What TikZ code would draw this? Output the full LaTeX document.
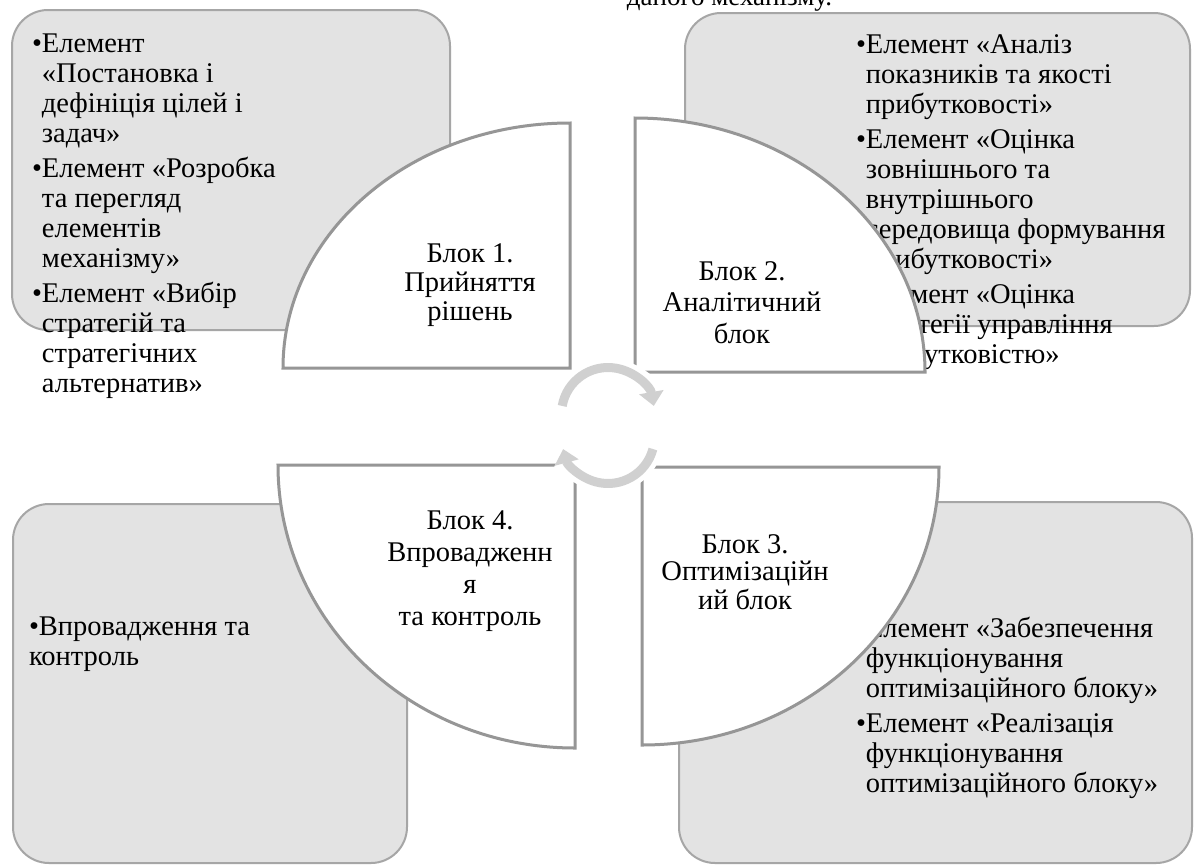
\documentclass[tikz,border=0pt]{standalone}
\usepackage{fontspec}
\setmainfont{Liberation Serif}
\usetikzlibrary{arrows.meta}
\definecolor{boxfill}{RGB}{227,227,227}
\definecolor{boxline}{RGB}{166,166,166}
\definecolor{blockline}{RGB}{150,150,150}
\definecolor{arrowgray}{RGB}{208,208,208}
\tikzset{
  graybox/.style={draw=boxline, fill=boxfill, line width=2pt, rounded corners=36pt, inner sep=0pt, outer sep=0pt},
  quarter/.style={draw=blockline, fill=white, line width=3pt, line join=miter},
  boxtxt/.style={inner sep=0pt, outer sep=0pt, font=\fontsize{28.5}{30}\selectfont},
  blocktxt/.style={inner sep=0pt, outer sep=0pt, font=\fontsize{28.5}{#1}\selectfont},
  halo/.style={draw=white, line width=19pt, -{Triangle[width=34pt,length=20pt]}},
  cyc/.style={draw=arrowgray, line width=9pt, -{Triangle[width=24pt,length=14pt]}}
}
\begin{document}
\begin{tikzpicture}[x=1pt,y=-1pt]
\useasboundingbox[fill=white] (0,0) rectangle (1194,865);

% caption fragment at top
\node[boxtxt, font=\fontsize{27}{30}\selectfont, anchor=base east] (cap) at (832,5) {даного механізму.};

% gray boxes
\node[graybox, minimum width=438pt, minimum height=320pt] (box1) at (231,170) {};
\node[graybox, minimum width=505pt, minimum height=313pt] (box2) at (937.5,169.5) {};
\node[graybox, minimum width=513pt, minimum height=361pt] (box3) at (935.5,682.5) {};
\node[graybox, minimum width=394pt, minimum height=359pt] (box4) at (210,683.5) {};

% box texts
\node[boxtxt, anchor=base west] (t1) at (32,52) {\begin{tabular}[t]{@{}l@{}l@{}}
•&Елемент\\
&«Постановка і\\
&дефініція цілей і\\
&задач»\\[5pt]
•&Елемент «Розробка\\
&та перегляд\\
&елементів\\
&механізму»\\[5pt]
•&Елемент «Вибір\\
&стратегій та\\
&стратегічних\\
&альтернатив»
\end{tabular}};

\node[boxtxt, anchor=base west] (t2) at (856,53) {\begin{tabular}[t]{@{}l@{}l@{}}
•&Елемент «Аналіз\\
&показників та якості\\
&прибутковості»\\[5pt]
•&Елемент «Оцінка\\
&зовнішнього та\\
&внутрішнього\\
&середовища формування\\
&прибутковості»\\[5pt]
•&Елемент «Оцінка\\
&стратегії управління\\
&прибутковістю»
\end{tabular}};

\node[boxtxt, anchor=base west] (t3) at (856,637) {\begin{tabular}[t]{@{}l@{}l@{}}
•&Елемент «Забезпечення\\
&функціонування\\
&оптимізаційного блоку»\\[5pt]
•&Елемент «Реалізація\\
&функціонування\\
&оптимізаційного блоку»
\end{tabular}};

\node[boxtxt, anchor=base west] (t4) at (29,635) {\begin{tabular}[t]{@{}l@{}}
•Впровадження та\\
контроль
\end{tabular}};

% quarter blocks
\draw[quarter] (283,368) arc[start angle=180, end angle=270, x radius=287, y radius=245] -- (570,368) -- cycle;
\draw[quarter] (635,118) arc[start angle=270, end angle=360, x radius=290, y radius=254] -- (635,372) -- cycle;
\draw[quarter] (939,467) arc[start angle=0, end angle=90, x radius=297, y radius=278] -- (642,467) -- cycle;
\draw[quarter] (575,748) arc[start angle=90, end angle=180, x radius=297, y radius=283] -- (575,465) -- cycle;

% block texts
\node[blocktxt=29, anchor=base] (b1) at (470,262) {\begin{tabular}[t]{@{}c@{}}Блок 1.\\Прийняття\\рішень\end{tabular}};
\node[blocktxt=31.5, anchor=base] (b2) at (742,280) {\begin{tabular}[t]{@{}c@{}}Блок 2.\\Аналітичний\\блок\end{tabular}};
\node[blocktxt=27.5, anchor=base] (b3) at (745,553) {\begin{tabular}[t]{@{}c@{}}Блок 3.\\Оптимізаційн\\ий блок\end{tabular}};
\node[blocktxt=32, anchor=base] (b4) at (470,529) {\begin{tabular}[t]{@{}c@{}}Блок 4.\\Впровадженн\\я\\та контроль\end{tabular}};

% central cycle arrows
\coordinate (ctop) at (608,414);
\coordinate (cbot) at (608,437);
\draw[halo] ([shift={(190:46.5 and 46.5)}]ctop) arc[start angle=190, end angle=350, radius=46.5];
\draw[halo] ([shift={(15:46.5 and 46.5)}]cbot) arc[start angle=15, end angle=165, radius=46.5];
\draw[cyc] ([shift={(190:46.5 and 46.5)}]ctop) arc[start angle=190, end angle=350, radius=46.5];
\draw[cyc] ([shift={(15:46.5 and 46.5)}]cbot) arc[start angle=15, end angle=165, radius=46.5];
\end{tikzpicture}
\end{document}
